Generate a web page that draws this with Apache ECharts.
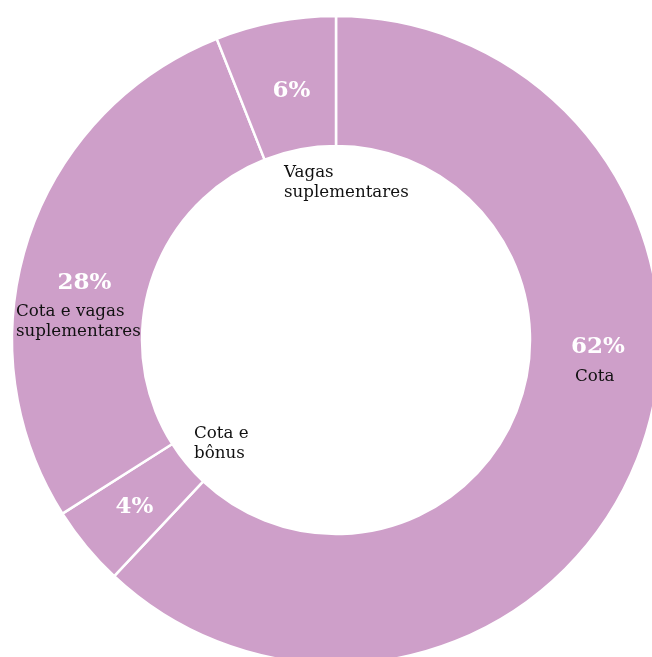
<!DOCTYPE html>
<html>
<head>
<meta charset="utf-8">
<script src="https://cdn.jsdelivr.net/npm/echarts@6/dist/echarts.min.js"></script>
<style>
html,body{margin:0;padding:0;background:#fff;}
#chart{width:652px;height:657px;}
</style>
</head>
<body>
<div id="chart"></div>
<script>
// Data
var categories = ['Cota', 'Cota e bônus', 'Cota e vagas suplementares', 'Vagas suplementares'];
var labelNames = ['Cota', 'Cota e\nbônus', 'Cota e vagas\nsuplementares', 'Vagas\nsuplementares'];
var values = [62, 4, 28, 6];

// Label placement (styling, not data)
var pctPos = [[598, 347], [134.5, 507.5], [84.5, 283], [291.5, 91]];
var namePos = [[575, 367], [194, 424], [16, 302], [284, 163]];

var FONT = '"DejaVu Serif", "Liberation Serif", serif';
var FILL = '#CE9FC9';

var chart = echarts.init(document.getElementById('chart'), null, {renderer: 'canvas'});

var dataMain = categories.map(function (c, i) { return {name: c, value: values[i]}; });
var dataNames = categories.map(function (c, i) { return {name: c, value: values[i]}; });

chart.setOption({
  animation: false,
  backgroundColor: '#ffffff',
  series: [
    {
      type: 'pie',
      center: [336, 340],
      radius: [194, 324],
      startAngle: 90,
      clockwise: true,
      silent: true,
      data: dataMain,
      itemStyle: {color: FILL, borderColor: '#ffffff', borderWidth: 2.5},
      label: {
        show: true,
        position: 'inside',
        formatter: function (p) { return p.value + '%'; },
        color: '#ffffff',
        fontFamily: FONT,
        fontWeight: 'bold',
        fontSize: 23
      },
      labelLine: {show: false},
      emphasis: {disabled: true},
      labelLayout: function (params) {
        var p = pctPos[params.dataIndex];
        return {x: p[0], y: p[1], align: 'center', verticalAlign: 'middle'};
      }
    },
    {
      type: 'pie',
      center: [336, 340],
      radius: [194, 324],
      startAngle: 90,
      clockwise: true,
      silent: true,
      z: 3,
      data: dataNames,
      itemStyle: {color: 'rgba(0,0,0,0)', borderWidth: 0},
      label: {
        show: true,
        position: 'inside',
        formatter: function (p) { return labelNames[p.dataIndex]; },
        color: '#111111',
        fontFamily: FONT,
        fontSize: 16.7,
        lineHeight: 20,
        align: 'left'
      },
      labelLine: {show: false},
      emphasis: {disabled: true},
      labelLayout: function (params) {
        var p = namePos[params.dataIndex];
        return {x: p[0], y: p[1], align: 'left', verticalAlign: 'top'};
      }
    }
  ]
});
</script>
</body>
</html>
